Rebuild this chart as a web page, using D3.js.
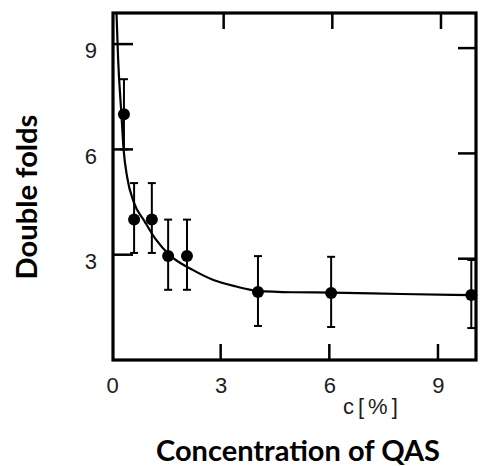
<!DOCTYPE html>
<html>
<head>
<meta charset="utf-8">
<script src="https://cdn.jsdelivr.net/npm/d3@7"></script>
<style>
  body { margin: 0; background: #fff; }
  svg { display: block; }
</style>
</head>
<body>
<div id="chart"></div>
<script>
// Measured points (concentration c in %, number of double folds)
const cValues    = [0.33, 0.61, 1.1, 1.55, 2.07, 4.03, 6.05, 9.92];
const foldValues = [7.0, 4.0, 4.0, 2.96, 2.96, 1.94, 1.91, 1.85];
const errLow     = [6.0, 3.05, 3.05, 2.0, 2.0, 0.97, 0.94, 0.91];
const errHigh    = [8.0, 5.04, 5.04, 4.0, 4.0, 2.96, 2.94, 2.85];
// Fitted curve
const curveC     = [0.12, 0.17, 0.26, 0.32, 0.42, 0.6, 0.9, 1.2, 1.6, 2.24, 2.8, 3.4, 4.03, 5.0, 6.05, 8.0, 10.0];
const curveFolds = [10.0, 8.55, 7.0, 6.0, 5.2, 4.5, 3.95, 3.45, 2.98, 2.56, 2.28, 2.1, 1.97, 1.93, 1.92, 1.88, 1.85];
// Tick labels
const xTicks = [0, 3, 6, 9];
const yTicks = [3, 6, 9];
const innerTicks = [3, 6, 9];

const width = 502, height = 466;
const frame = { left: 113, right: 476, top: 13, bottom: 360 };

const svg = d3.select("#chart").append("svg")
    .attr("width", width)
    .attr("height", height);

const x = d3.scaleLinear().domain([0, 10]).range([112, 474.2]);
const y = d3.scaleLinear().domain([0, 10]).range([360, 9]);

// clip so the curve doesn't run past the frame
svg.append("clipPath").attr("id", "plotclip")
  .append("rect")
    .attr("x", frame.left).attr("y", frame.top)
    .attr("width", frame.right - frame.left)
    .attr("height", frame.bottom - frame.top);

// --------------------------------------
// Axes with inward ticks, frame drawn separately
const tickFont = "'Liberation Sans', Arial, sans-serif";

const gx = svg.append("g")
    .attr("transform", "translate(0," + frame.bottom + ")")
    .call(d3.axisBottom(x).tickValues(xTicks).tickSize(0).tickPadding(17).tickFormat(d3.format("d")));
gx.select(".domain").remove();
gx.selectAll("text").style("font-family", tickFont).style("font-size", "22px").attr("fill", "#1c1c1c");

const gy = svg.append("g")
    .attr("transform", "translate(" + frame.left + ",0)")
    .call(d3.axisLeft(y).tickValues(yTicks).tickSize(0).tickPadding(16).tickFormat(d3.format("d")));
gy.select(".domain").remove();
gy.selectAll("text").attr("dy", "0.62em").style("font-family", tickFont).style("font-size", "22px").attr("fill", "#1c1c1c");

// tick marks on all four sides, pointing inwards
const tickG = svg.append("g").attr("stroke", "#000").attr("stroke-width", 2.5);
tickG.selectAll(".tb").data(innerTicks).join("line")
    .attr("x1", d => x(d)).attr("x2", d => x(d))
    .attr("y1", frame.bottom).attr("y2", frame.bottom - 16);
tickG.selectAll(".tt").data(innerTicks).join("line")
    .attr("x1", d => x(d) + 3).attr("x2", d => x(d) + 3)
    .attr("y1", frame.top).attr("y2", frame.top + 16);
tickG.selectAll(".tl").data(innerTicks).join("line")
    .attr("x1", frame.left).attr("x2", frame.left + 20)
    .attr("y1", d => y(d)).attr("y2", d => y(d));
tickG.selectAll(".tr").data(innerTicks).join("line")
    .attr("x1", frame.right).attr("x2", frame.right - 18)
    .attr("y1", d => y(d) + 4).attr("y2", d => y(d) + 4);

svg.append("rect")
    .attr("x", frame.left).attr("y", frame.top)
    .attr("width", frame.right - frame.left)
    .attr("height", frame.bottom - frame.top)
    .attr("fill", "none")
    .attr("stroke", "#000")
    .attr("stroke-width", 3.2);

// --------------------------------------
// Fitted curve
const line = d3.line()
    .x((d, i) => x(curveC[i]))
    .y((d, i) => y(curveFolds[i]))
    .curve(d3.curveMonotoneX);
svg.append("path")
    .datum(curveC)
    .attr("clip-path", "url(#plotclip)")
    .attr("d", line)
    .attr("fill", "none")
    .attr("stroke", "#000")
    .attr("stroke-width", 2.2);

// Error bars
const errG = svg.append("g").attr("stroke", "#000").attr("stroke-width", 2);
errG.selectAll(".bar").data(cValues).join("line")
    .attr("x1", d => x(d)).attr("x2", d => x(d))
    .attr("y1", (d, i) => y(errLow[i])).attr("y2", (d, i) => y(errHigh[i]));
errG.selectAll(".capLo").data(cValues).join("line")
    .attr("x1", d => x(d) - 4).attr("x2", d => Math.min(x(d) + 4, frame.right))
    .attr("y1", (d, i) => y(errLow[i])).attr("y2", (d, i) => y(errLow[i]));
errG.selectAll(".capHi").data(cValues).join("line")
    .attr("x1", d => x(d) - 4).attr("x2", d => Math.min(x(d) + 4, frame.right))
    .attr("y1", (d, i) => y(errHigh[i])).attr("y2", (d, i) => y(errHigh[i]));

// Points
svg.append("g").selectAll("circle").data(cValues).join("circle")
    .attr("cx", d => x(d))
    .attr("cy", (d, i) => y(foldValues[i]))
    .attr("r", 6)
    .attr("fill", "#000");

// --------------------------------------
// Labels
svg.append("text")
    .attr("x", 343).attr("y", 414)
    .style("font-family", tickFont).style("font-size", "22px")
    .style("letter-spacing", "4px")
    .attr("fill", "#1c1c1c")
    .text("c[%]");

const titleFont = "Lato, 'Open Sans', sans-serif";
function fitText(sel, target) {
    let w = sel.node().getComputedTextLength();
    let fs = parseFloat(sel.style("font-size"));
    sel.style("font-size", (fs * target / w) + "px");
}

const xTitle = svg.append("text")
    .attr("x", 298).attr("y", 461)
    .attr("text-anchor", "middle")
    .style("font-family", titleFont).style("font-weight", "bold").style("font-size", "27px")
    .text("Concentration of QAS");
fitText(xTitle, 284);

const yTitle = svg.append("text")
    .attr("transform", "translate(37,197) rotate(-90)")
    .attr("text-anchor", "middle")
    .style("font-family", titleFont).style("font-weight", "bold").style("font-size", "27px")
    .text("Double folds");
fitText(yTitle, 165);
</script>
</body>
</html>
